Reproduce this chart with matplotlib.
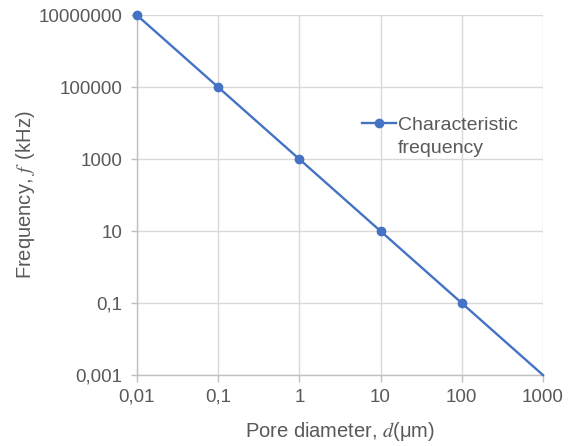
import matplotlib.pyplot as plt
from matplotlib.lines import Line2D
from matplotlib.ticker import FuncFormatter, NullLocator

plt.rcParams['font.family'] = ['Liberation Sans', 'DejaVu Sans']
plt.rcParams['mathtext.fontset'] = 'stix'

# characteristic frequency vs. pore diameter
diameter = [0.01, 0.1, 1, 10, 100, 1000]
frequency = [10000000, 100000, 1000, 10, 0.1, 0.001]
x_ticks = [0.01, 0.1, 1, 10, 100, 1000]
y_ticks = [0.001, 0.1, 10, 1000, 100000, 10000000]

text_color = '#595959'
grid_color = '#d9d9d9'
axis_color = '#bfbfbf'
line_color = '#4472c4'

fig = plt.figure(figsize=(5.68, 4.46), dpi=100)
ax = fig.add_axes([0.241, 0.159, 0.715, 0.807])

ax.plot(diameter, frequency, color=line_color, linewidth=1.7, zorder=3,
        clip_on=False)
ax.plot(diameter[:-1], frequency[:-1], 'o', color=line_color, markersize=6,
        zorder=4, clip_on=False)

ax.set_xscale('log')
ax.set_yscale('log')
ax.set_xlim(0.01, 1000)
ax.set_ylim(0.001, 10000000)
ax.set_xticks(x_ticks)
ax.set_yticks(y_ticks)
ax.xaxis.set_minor_locator(NullLocator())
ax.yaxis.set_minor_locator(NullLocator())


def comma_fmt(v, pos):
    s = ('%.3f' % v).rstrip('0').rstrip('.') if v < 1 else '%d' % round(v)
    return s.replace('.', ',')


ax.xaxis.set_major_formatter(FuncFormatter(comma_fmt))
ax.yaxis.set_major_formatter(FuncFormatter(comma_fmt))

ax.grid(True, color=grid_color, linewidth=1.0, zorder=0)
ax.set_axisbelow(True)
for side in ['top', 'right']:
    ax.spines[side].set_visible(False)
for side in ['left', 'bottom']:
    ax.spines[side].set_color(axis_color)
    ax.spines[side].set_linewidth(1.0)

ax.tick_params(axis='x', colors=axis_color, labelcolor=text_color,
               labelsize=13.5, length=5, width=1, pad=5)
ax.tick_params(axis='y', colors=axis_color, labelcolor=text_color,
               labelsize=13.5, length=4, width=1, pad=6.5)

ax.set_xlabel(r'Pore diameter, $d$(μm)', color=text_color, fontsize=14.5,
              labelpad=10)
ax.set_ylabel(r'Frequency, $f\,$ (kHz)', color=text_color, fontsize=14.5,
              labelpad=1)

# legend: handle sits on the first line of the two-line label
series_handle = Line2D([], [], color=line_color, linewidth=1.7, marker='o',
                       markersize=6)
blank_handle = Line2D([], [], linestyle='none')
ax.legend([series_handle, blank_handle], ['Characteristic', 'frequency'],
          loc='upper left', bbox_to_anchor=(0.555, 0.72), frameon=False,
          fontsize=14, labelcolor=text_color, handlelength=1.75,
          handletextpad=0.08, borderaxespad=0, borderpad=0,
          labelspacing=0.3)

fig.savefig('out.png', dpi=100)
